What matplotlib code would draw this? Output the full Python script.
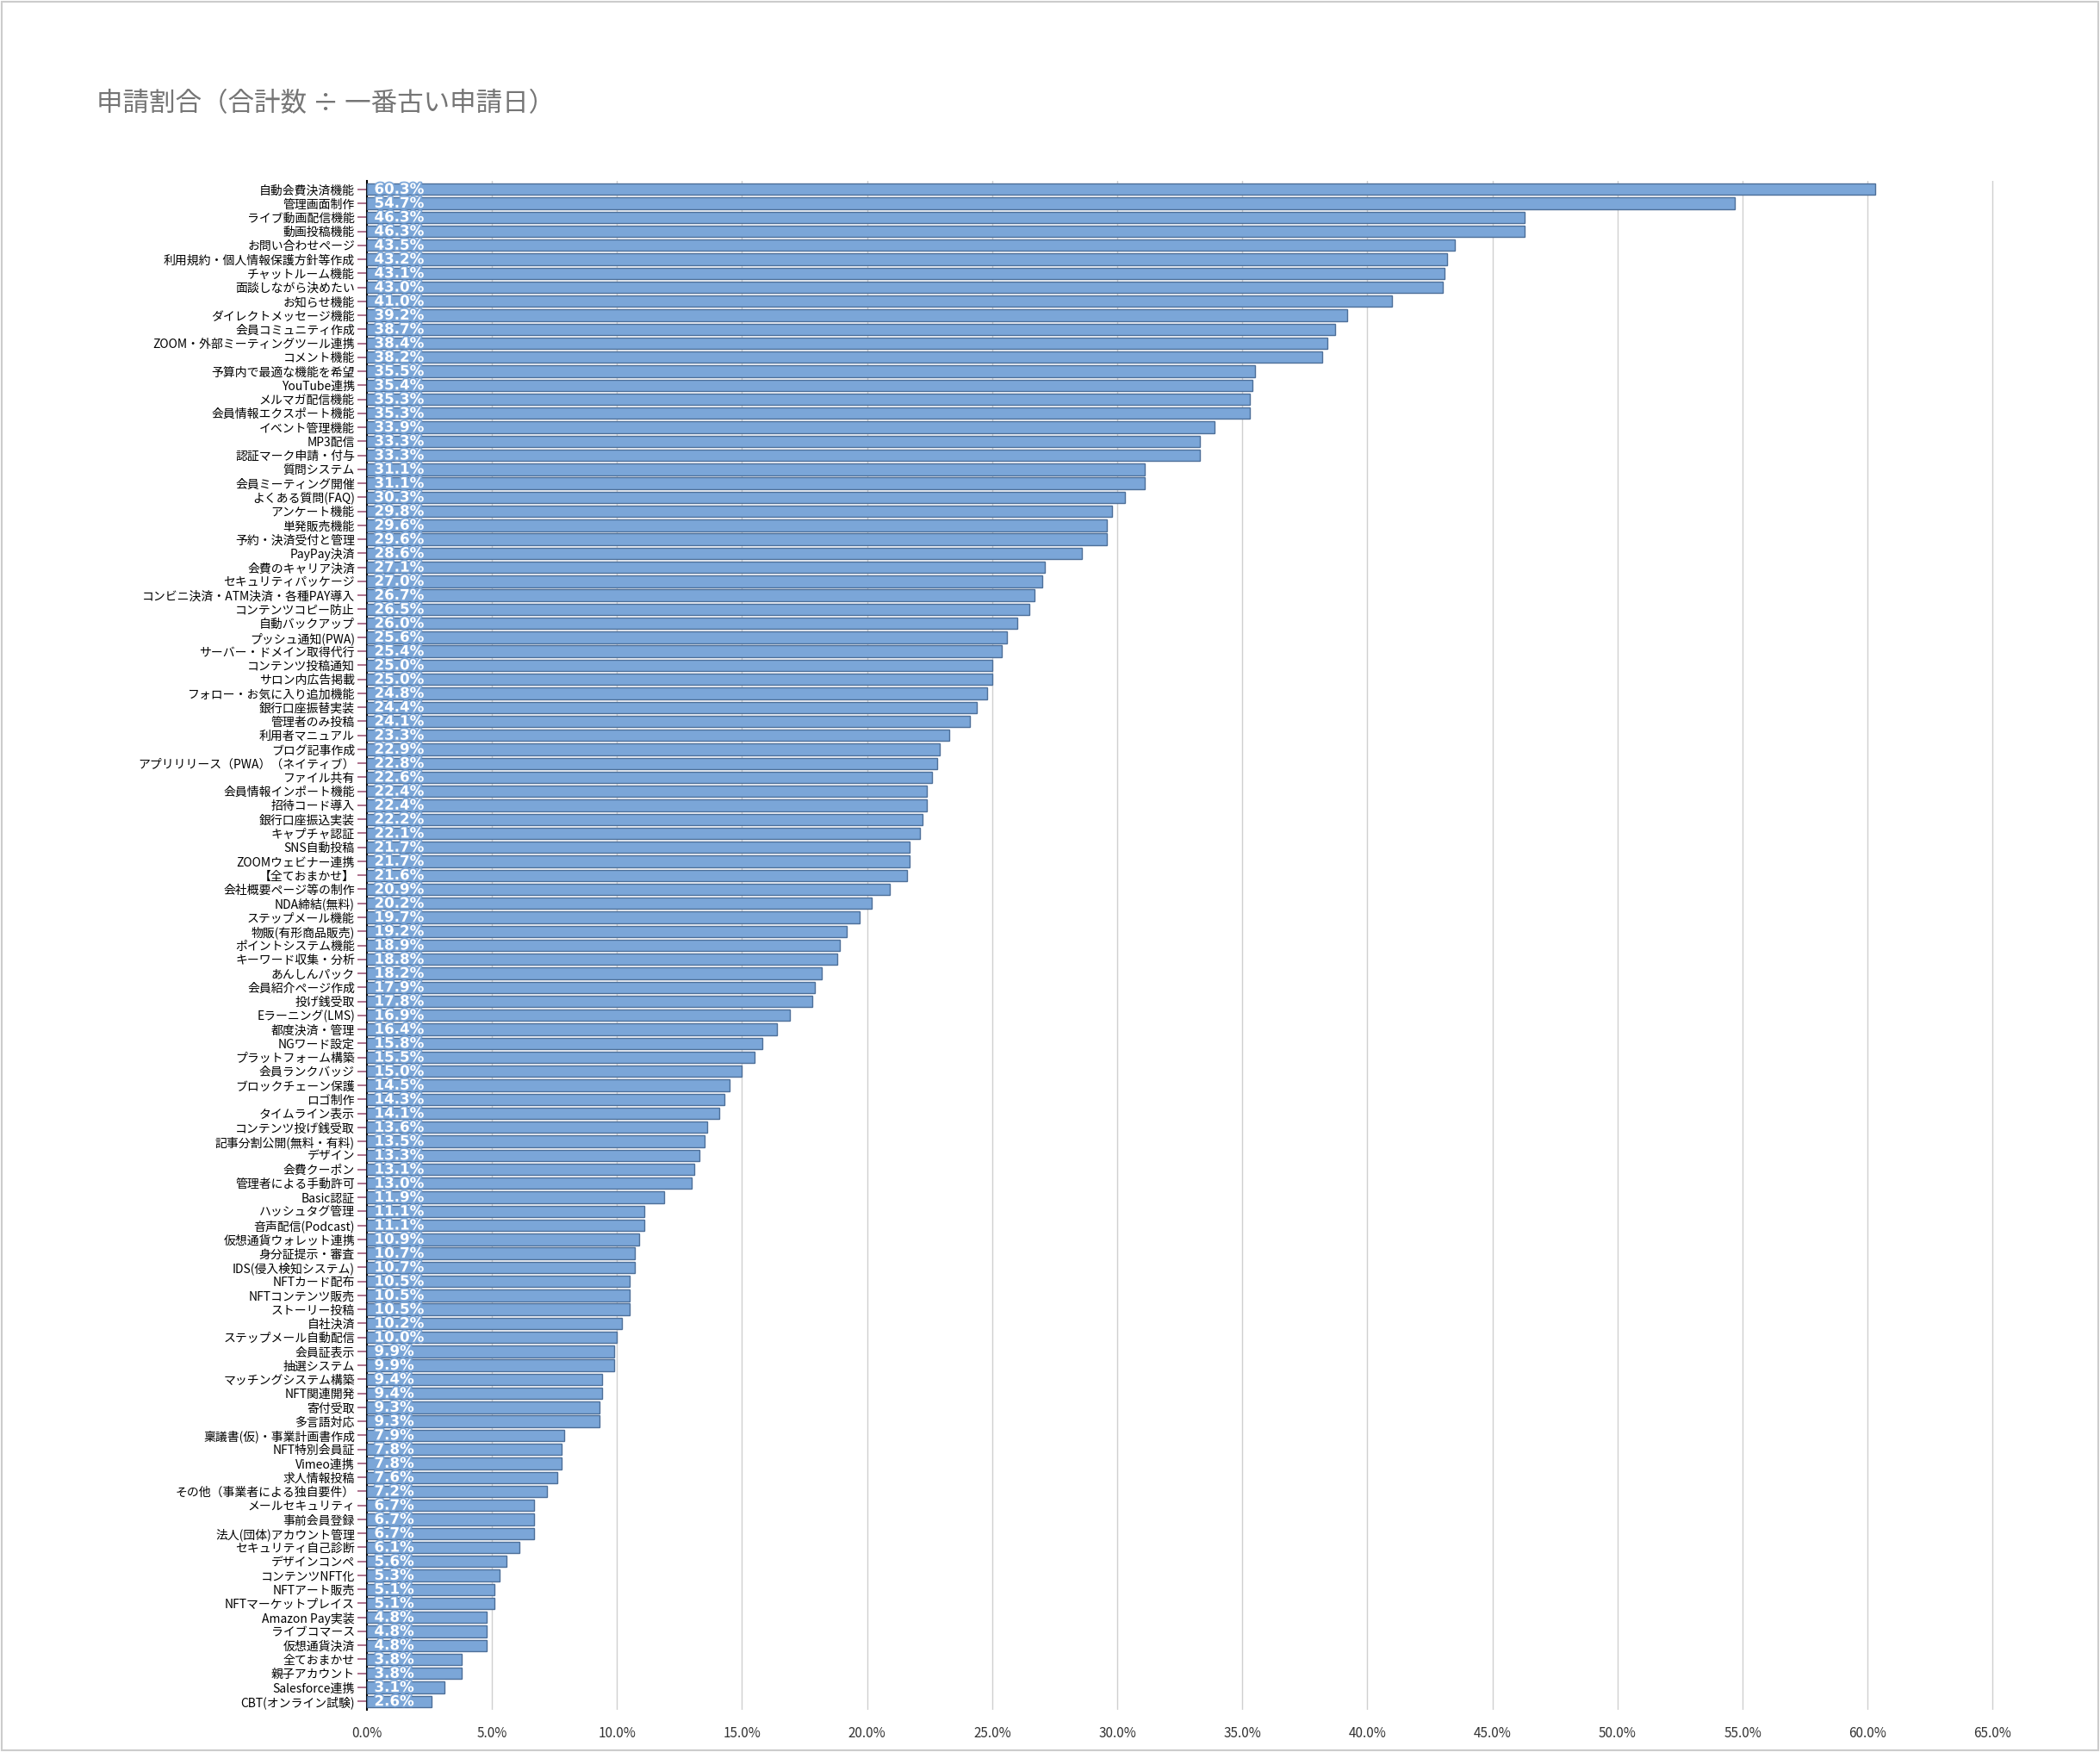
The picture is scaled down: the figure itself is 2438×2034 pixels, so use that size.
import matplotlib
matplotlib.use("Agg")
import matplotlib.pyplot as plt
import matplotlib.patheffects as pe
from matplotlib.ticker import FuncFormatter, MultipleLocator

plt.rcParams['font.family'] = ['Noto Sans CJK JP', 'DejaVu Sans']

categories = [
"自動会費決済機能","管理画面制作","ライブ動画配信機能","動画投稿機能","お問い合わせページ","利用規約・個人情報保護方針等作成",
"チャットルーム機能","面談しながら決めたい","お知らせ機能","ダイレクトメッセージ機能","会員コミュニティ作成","ZOOM・外部ミーティングツール連携",
"コメント機能","予算内で最適な機能を希望","YouTube連携","メルマガ配信機能","会員情報エクスポート機能","イベント管理機能","MP3配信",
"認証マーク申請・付与","質問システム","会員ミーティング開催","よくある質問(FAQ)","アンケート機能","単発販売機能","予約・決済受付と管理",
"PayPay決済","会費のキャリア決済","セキュリティパッケージ","コンビニ決済・ATM決済・各種PAY導入","コンテンツコピー防止","自動バックアップ",
"プッシュ通知(PWA)","サーバー・ドメイン取得代行","コンテンツ投稿通知","サロン内広告掲載","フォロー・お気に入り追加機能","銀行口座振替実装",
"管理者のみ投稿","利用者マニュアル","ブログ記事作成","アプリリリース（PWA）（ネイティブ）","ファイル共有","会員情報インポート機能",
"招待コード導入","銀行口座振込実装","キャプチャ認証","SNS自動投稿","ZOOMウェビナー連携","【全ておまかせ】","会社概要ページ等の制作",
"NDA締結(無料)","ステップメール機能","物販(有形商品販売)","ポイントシステム機能","キーワード収集・分析","あんしんパック","会員紹介ページ作成",
"投げ銭受取","Eラーニング(LMS)","都度決済・管理","NGワード設定","プラットフォーム構築","会員ランクバッジ","ブロックチェーン保護",
"ロゴ制作","タイムライン表示","コンテンツ投げ銭受取","記事分割公開(無料・有料)","デザイン","会費クーポン","管理者による手動許可",
"Basic認証","ハッシュタグ管理","音声配信(Podcast)","仮想通貨ウォレット連携","身分証提示・審査","IDS(侵入検知システム)",
"NFTカード配布","NFTコンテンツ販売","ストーリー投稿","自社決済","ステップメール自動配信","会員証表示","抽選システム",
"マッチングシステム構築","NFT関連開発","寄付受取","多言語対応","稟議書(仮)・事業計画書作成","NFT特別会員証","Vimeo連携",
"求人情報投稿","その他（事業者による独自要件）","メールセキュリティ","事前会員登録","法人(団体)アカウント管理","セキュリティ自己診断",
"デザインコンペ","コンテンツNFT化","NFTアート販売","NFTマーケットプレイス","Amazon Pay実装","ライブコマース","仮想通貨決済",
"全ておまかせ","親子アカウント","Salesforce連携","CBT(オンライン試験)"]

values = [60.3,54.7,46.3,46.3,43.5,43.2,43.1,43.0,41.0,39.2,38.7,38.4,38.2,35.5,35.4,35.3,35.3,33.9,33.3,
33.3,31.1,31.1,30.3,29.8,29.6,29.6,28.6,27.1,27.0,26.7,26.5,26.0,25.6,25.4,25.0,25.0,24.8,24.4,24.1,
23.3,22.9,22.8,22.6,22.4,22.4,22.2,22.1,21.7,21.7,21.6,20.9,20.2,19.7,19.2,18.9,18.8,18.2,17.9,17.8,
16.9,16.4,15.8,15.5,15.0,14.5,14.3,14.1,13.6,13.5,13.3,13.1,13.0,11.9,11.1,11.1,10.9,10.7,10.7,
10.5,10.5,10.5,10.2,10.0,9.9,9.9,9.4,9.4,9.3,9.3,7.9,7.8,7.8,7.6,7.2,6.7,6.7,6.7,6.1,
5.6,5.3,5.1,5.1,4.8,4.8,4.8,3.8,3.8,3.1,2.6]

xticks = [0,5,10,15,20,25,30,35,40,45,50,55,60,65]

fig = plt.figure(figsize=(24.38, 20.34), dpi=100)
fig.patch.set_facecolor('white')
ax = fig.add_axes([420/2438, 1-1985/2034, (2328-420)/2438, (1985-210)/2034])

n = len(categories)
ys = list(range(n))
ax.barh(ys, values, height=0.82, color='#7ba6d8', edgecolor='#4d6f99', linewidth=1.0, zorder=3)
ax.set_ylim(n - 0.4, -0.6)
ax.set_xlim(-0.2, 65.5)
ax.set_yticks(ys)
ax.set_yticklabels(categories, fontsize=9.5, fontweight='bold')
ax.tick_params(axis='y', length=8, color='#a05a7a', width=1.2, pad=2)
ax.set_xticks(xticks)
ax.xaxis.set_major_formatter(FuncFormatter(lambda v, p: f"{v:.1f}%"))
ax.tick_params(axis='x', length=0, labelsize=11, pad=14, colors='#333333')
ax.grid(axis='x', color='#d0d0d0', linewidth=1.0, zorder=0)
for s in ['top', 'right', 'bottom']:
    ax.spines[s].set_visible(False)
ax.spines['left'].set_linewidth(1.5)
ax.spines['left'].set_position(('data', 0))

for y, v in zip(ys, values):
    t = ax.text(0.3, y, f"{v:.1f}%", va='center', ha='left', fontsize=12,
                fontweight='bold', color='white', zorder=5, family=['DejaVu Sans'])
    t.set_path_effects([pe.withStroke(linewidth=2.5, foreground='#7ba6d8')])

fig.text(112/2438, 1-121/2034, "申請割合（合計数 ÷ 一番古い申請日）", fontsize=22,
         color='#757575', va='center', ha='left')

border = plt.Rectangle((0.001, 0.001), 0.998, 0.998, transform=fig.transFigure,
                       fill=False, edgecolor='#cccccc', linewidth=1.5)
fig.patches.append(border)

fig.savefig("out.png", dpi=100)
